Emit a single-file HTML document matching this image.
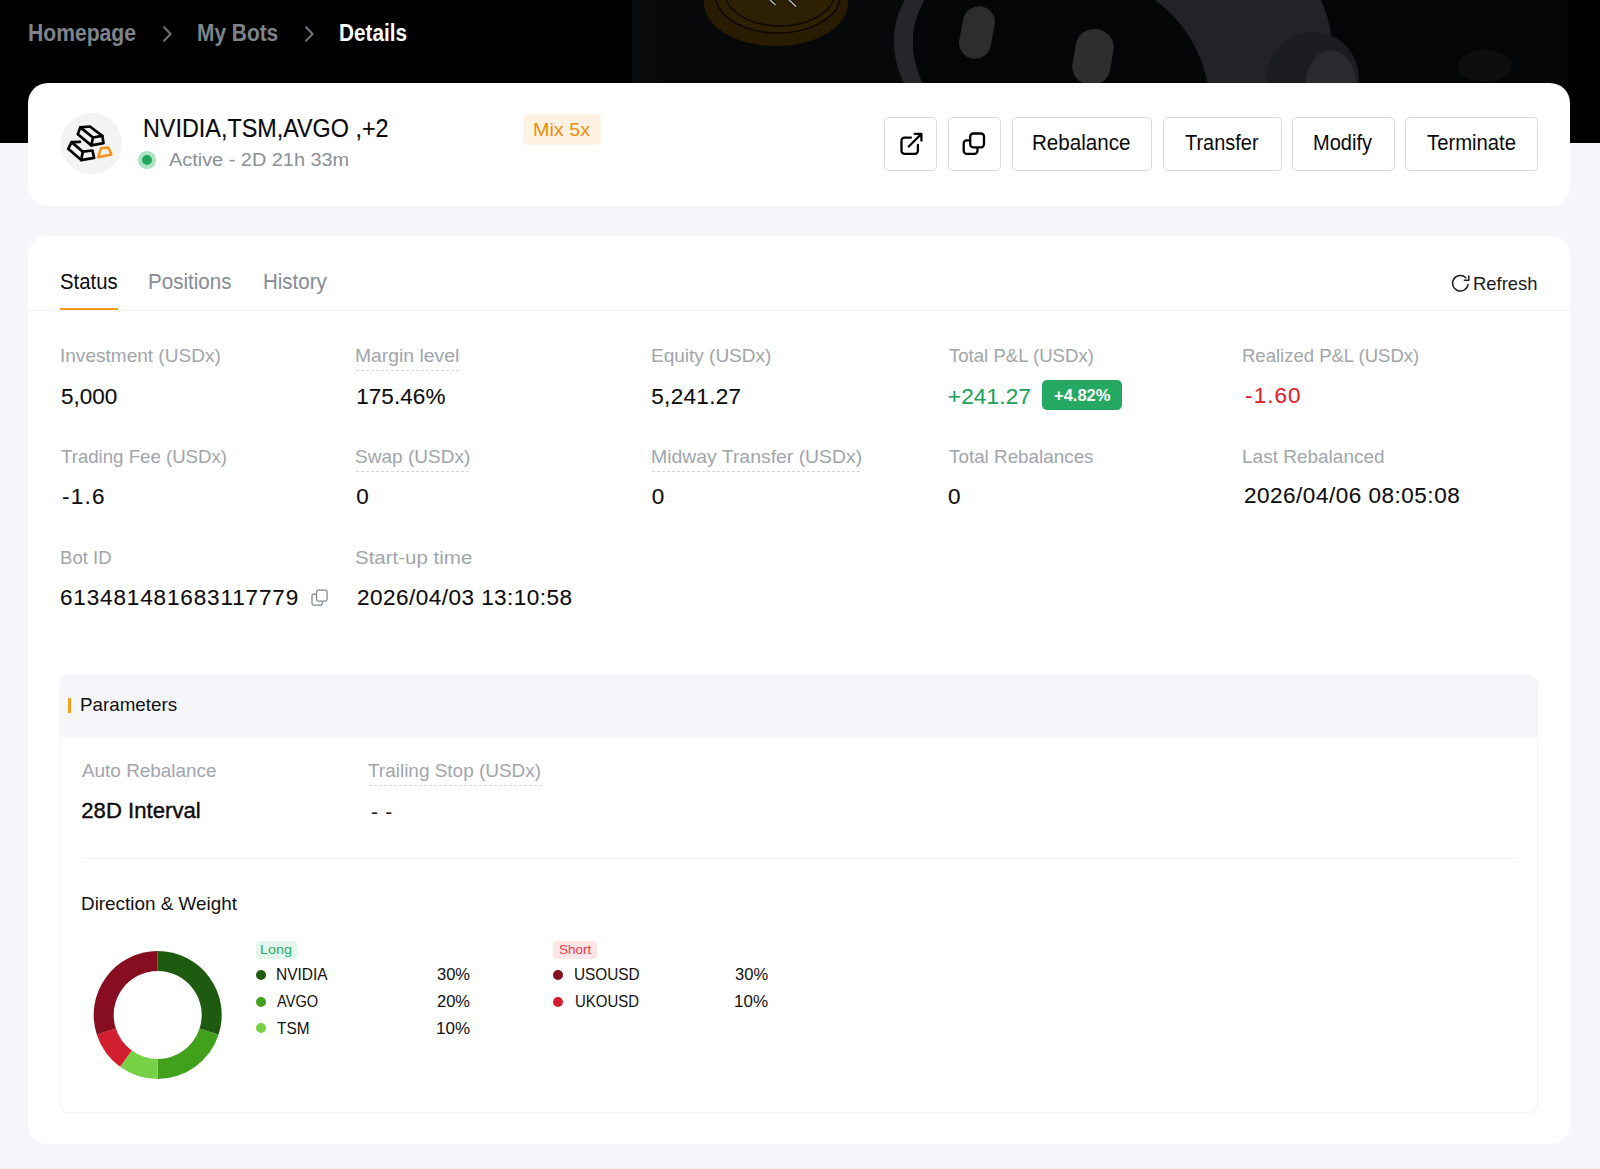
<!DOCTYPE html>
<html lang="en"><head><meta charset="utf-8"><title>Bot Details</title>
<style>
*{margin:0;padding:0;box-sizing:border-box}
html,body{width:1600px;height:1169px;overflow:hidden;background:#f5f6fa;font-family:"Liberation Sans",Arial,sans-serif;}
.t{position:absolute;white-space:nowrap}
.a{position:absolute}
.card{position:absolute;background:#fff;border-radius:20px}
.btn{position:absolute;top:117px;height:54px;border:1px solid #dadada;border-radius:5px;background:#fff}
.dash{position:absolute;height:1px;background-image:linear-gradient(90deg,#d4d7dc 0,#d4d7dc 3px,transparent 3px,transparent 5px);background-size:5px 1px}
.dot{position:absolute;width:10px;height:10px;border-radius:50%}
</style></head><body>
<div class="a" style="left:0;top:0;width:1600px;height:143px;background:#000"></div>
<svg class="a" style="left:632px;top:0" width="936" height="143" viewBox="632 0 936 143">
  <rect x="632" y="0" width="936" height="143" fill="#07080a"/>
  <rect x="632" y="0" width="30" height="143" fill="#090a0c"/>
  <rect x="1320" y="0" width="248" height="143" fill="#050607"/>
  <ellipse cx="1485" cy="66" rx="27" ry="16" fill="#0e0e0f"/>
  <ellipse cx="776" cy="3" rx="72" ry="43" fill="#2a1c02"/>
  <ellipse cx="778" cy="-4" rx="62" ry="37" fill="#2e2002" stroke="#0d0801" stroke-width="1.6"/>
  <ellipse cx="780" cy="-8" rx="55" ry="34" fill="none" stroke="#0d0801" stroke-width="1.4"/>
  <path d="M770 0 L775.5 5 M789 0 L796 6.5" stroke="#0d0801" stroke-width="3.5"/>
  <path d="M770 0 L775.5 5 M789 0 L796 6.5" stroke="#b8b8b8" stroke-width="1.6"/>
  <path d="M1100 -5 L1318 -5 Q1328 12 1331 35 L1331 90 L1100 90 Z" fill="#232327"/>
  <path d="M906 -2 C890 25 890 55 905 86 L924 86 C909 55 909 25 926 -2 Z" fill="#26262a"/>
  <path d="M926 -2 C909 25 909 55 924 86 L1208 86 Q1198 30 1152 -2 Z" fill="#050608"/>
  <rect x="961" y="6" width="32" height="53" rx="16" transform="rotate(11 977 32.5)" fill="#2d2d2f"/>
  <rect x="1074" y="29" width="38" height="56" rx="18" transform="rotate(10 1093 57)" fill="#2d2f2e"/>
  <circle cx="1313" cy="78" r="46" fill="#1c1d20"/>
  <ellipse cx="1331" cy="88" rx="26" ry="38" fill="#2a2b2e"/>
</svg>
<svg class="a" style="left:155px;top:20px" width="30" height="30" viewBox="155 20 30 30"><path d="M164.1 27.2 L170.6 34 L163.9 40.9" fill="none" stroke="#70757c" stroke-width="2" stroke-linecap="round" stroke-linejoin="round"/></svg>
<svg class="a" style="left:297px;top:20px" width="30" height="30" viewBox="297 20 30 30"><path d="M306.1 27.2 L312.6 34 L305.9 40.9" fill="none" stroke="#70757c" stroke-width="2" stroke-linecap="round" stroke-linejoin="round"/></svg>

<div class="card" style="left:28.4px;top:82.5px;width:1541.2px;height:123.4px"></div>
<div class="a" style="left:60.5px;top:113px;width:61px;height:61px;border-radius:50%;background:#f3f3f3"></div>
<svg class="a" style="left:58px;top:111px" width="66" height="66" viewBox="0 0 66 66">
  <g fill="none" stroke="#000" stroke-width="2.7" stroke-linejoin="round" stroke-linecap="round">
    <path d="M22.3 16.4 L31.9 15.5 L44.3 24.8 L45.5 32.2 L33.3 34.4 L19.8 23.2 Z"/>
    <path d="M22.3 16.4 L35 26.5 L44.3 24.8 M35 26.5 L33.3 34.4"/>
    <path d="M22 30.8 L13.6 31.1 L10.2 37.8 L23.2 49.1 L36.1 46.9 L34.4 39.5 L24.8 40.7"/>
    <path d="M13.6 31.1 L24.8 40.7 L23.2 49.1"/>
  </g>
  <path d="M42.9 37.3 L50.3 36.4 L53.4 43.5 L40.1 46.3 Z" fill="none" stroke="#f7931a" stroke-width="2.5" stroke-linejoin="round"/>
</svg>
<div class="a" style="left:138.15px;top:151.35px;width:17.5px;height:17.5px;border-radius:50%;background:#aee3c6"></div>
<div class="a" style="left:141.9px;top:155.1px;width:10px;height:10px;border-radius:50%;background:#1fa85d"></div>
<div class="a" style="left:523px;top:114px;width:78px;height:31px;border-radius:5px;background:#fef3e3"></div>

<div class="btn" style="left:884px;width:53px"></div>
<div class="btn" style="left:948px;width:53px"></div>
<div class="btn" style="left:1012px;width:140px"></div>
<div class="btn" style="left:1163px;width:118.5px"></div>
<div class="btn" style="left:1292px;width:102.5px"></div>
<div class="btn" style="left:1405px;width:133px"></div>
<svg class="a" style="left:880px;top:112px" width="130" height="64" viewBox="880 112 130 64">
  <g fill="none" stroke="#000" stroke-width="2.3" stroke-linecap="round" stroke-linejoin="round">
    <path d="M910.9 137.6 H904.5 A3 3 0 0 0 901.5 140.6 V150.8 A3 3 0 0 0 904.5 153.8 H914.9 A3 3 0 0 0 917.9 150.8 V145"/>
    <path d="M908.8 146.5 L921.2 134 M914.6 133.8 H921.4 V140.6"/>
    <rect x="963.7" y="140.4" width="13.8" height="13.4" rx="3"/>
    <rect x="970.2" y="133.5" width="13.8" height="13.8" rx="3" fill="#fff"/>
  </g>
</svg>

<div class="card" style="left:28.4px;top:236.4px;width:1541.2px;height:907.8px"></div>
<div class="a" style="left:28.4px;top:310px;width:1541.2px;height:1px;background:#f0f1f3"></div>
<div class="a" style="left:60px;top:308px;width:58px;height:2px;background:#f39a1b"></div>
<svg class="a" style="left:1450px;top:273px" width="21" height="21" viewBox="1450 273 21 21">
  <path d="M1468 284.6 A7.8 7.8 0 1 1 1465.8 277.7" fill="none" stroke="#1a1a1a" stroke-width="1.5" stroke-linecap="round"/>
  <path d="M1464.4 280.3 H1468.8 V275.9" fill="none" stroke="#1a1a1a" stroke-width="1.5" stroke-linecap="round" stroke-linejoin="round"/>
</svg>

<div class="dash" style="left:356px;top:370px;width:103px"></div>
<div class="dash" style="left:356px;top:471px;width:113px"></div>
<div class="dash" style="left:652px;top:471px;width:210px"></div>
<div class="a" style="left:1042px;top:380px;width:80px;height:30px;border-radius:5px;background:#25a862"></div>
<svg class="a" style="left:309px;top:587px" width="21" height="21" viewBox="309 587 21 21">
  <g fill="none" stroke="#80858d" stroke-width="1.25" stroke-linejoin="round">
    <rect x="316.5" y="590.2" width="10.6" height="10.8" rx="1.8"/>
    <path d="M315.9 594.2 H313.6 A1.6 1.6 0 0 0 312 595.8 V603.6 A1.6 1.6 0 0 0 313.6 605.2 H320.7 A1.6 1.6 0 0 0 322.3 603.6 V601.6"/>
  </g>
</svg>

<div class="a" style="left:60.2px;top:675px;width:1477.6px;height:437.8px;border:1px solid #f1f2f5;border-radius:9px;background:#fff;overflow:hidden"><div style="margin:-1px -1px 0;height:62px;background:#f5f6fa"></div></div>
<div class="a" style="left:68px;top:698px;width:3px;height:14.5px;background:#f5a01a"></div>
<div class="dash" style="left:369px;top:785px;width:174px"></div>
<div class="a" style="left:81.5px;top:858px;width:1436px;height:1px;background:#f0f1f3"></div>
<svg class="a" style="left:92px;top:950px" width="132" height="132" viewBox="0 0 132 132"><path d="M65.70 1.00A64 64 0 0 1 126.57 84.78L107.55 78.60A44 44 0 0 0 65.70 21.00Z" fill="#1e5a0f"/><path d="M126.57 84.78A64 64 0 0 1 65.70 129.00L65.70 109.00A44 44 0 0 0 107.55 78.60Z" fill="#41a11a"/><path d="M65.70 129.00A64 64 0 0 1 28.08 116.78L39.84 100.60A44 44 0 0 0 65.70 109.00Z" fill="#77d045"/><path d="M28.08 116.78A64 64 0 0 1 4.83 84.78L23.85 78.60A44 44 0 0 0 39.84 100.60Z" fill="#d21f2f"/><path d="M4.83 84.78A64 64 0 0 1 65.70 1.00L65.70 21.00A44 44 0 0 0 23.85 78.60Z" fill="#870d20"/></svg>
<div class="a" style="left:256px;top:941px;width:41px;height:18px;border-radius:4px;background:#e4f6ec"></div>
<div class="a" style="left:553px;top:941px;width:44px;height:18px;border-radius:4px;background:#fde6e8"></div>
<div class="dot" style="left:256px;top:969.8px;background:#1e5a0f"></div>
<div class="dot" style="left:256px;top:996.5px;background:#41a11a"></div>
<div class="dot" style="left:256px;top:1023.3px;background:#77d045"></div>
<div class="dot" style="left:553.4px;top:969.8px;background:#870d20"></div>
<div class="dot" style="left:553.4px;top:996.5px;background:#d21f2f"></div>
<div class="t" id="bc1" style="left:27.75px;top:19.01px;font-size:23.5px;line-height:28px;color:#7f848c;font-weight:700;transform:scaleX(0.8983);transform-origin:0 0;">Homepage</div>
<div class="t" id="bc2" style="left:196.75px;top:19.01px;font-size:23.5px;line-height:28px;color:#7f848c;font-weight:700;transform:scaleX(0.8889);transform-origin:0 0;">My Bots</div>
<div class="t" id="bc3" style="left:339.25px;top:19.01px;font-size:23.5px;line-height:28px;color:#ffffff;font-weight:700;transform:scaleX(0.8816);transform-origin:0 0;">Details</div>
<div class="t" id="title" style="left:142.50px;top:113.31px;font-size:25px;line-height:30px;color:#0a0a0a;transform:scaleX(0.9345);transform-origin:0 0;-webkit-text-stroke:0.15px #0a0a0a;">NVIDIA,TSM,AVGO ,+2</div>
<div class="t" id="active" style="left:168.60px;top:149.71px;font-size:17.5px;line-height:21px;color:#8a8f98;transform:scaleX(1.1364);transform-origin:0 0;">Active - 2D 21h 33m</div>
<div class="t" id="mix" style="left:533.10px;top:118.81px;font-size:18px;line-height:22px;color:#ef8b0d;transform:scaleX(1.0987);transform-origin:0 0;">Mix 5x</div>
<div class="t" id="b1" style="left:1032.20px;top:129.01px;font-size:22.1px;line-height:27px;color:#0a0a0a;transform:scaleX(0.9322);transform-origin:0 0;">Rebalance</div>
<div class="t" id="b2" style="left:1185.00px;top:129.01px;font-size:22.1px;line-height:27px;color:#0a0a0a;transform:scaleX(0.9028);transform-origin:0 0;">Transfer</div>
<div class="t" id="b3" style="left:1313.40px;top:129.01px;font-size:22.1px;line-height:27px;color:#0a0a0a;transform:scaleX(0.9067);transform-origin:0 0;">Modify</div>
<div class="t" id="b4" style="left:1427.40px;top:129.01px;font-size:22.1px;line-height:27px;color:#0a0a0a;transform:scaleX(0.9172);transform-origin:0 0;">Terminate</div>
<div class="t" id="tab1" style="left:59.75px;top:267.71px;font-size:22.1px;line-height:27px;color:#0a0a0a;transform:scaleX(0.9197);transform-origin:0 0;">Status</div>
<div class="t" id="tab2" style="left:148.10px;top:267.71px;font-size:22.1px;line-height:27px;color:#878c95;transform:scaleX(0.9320);transform-origin:0 0;">Positions</div>
<div class="t" id="tab3" style="left:262.90px;top:267.71px;font-size:22.1px;line-height:27px;color:#878c95;transform:scaleX(0.9270);transform-origin:0 0;">History</div>
<div class="t" id="refresh" style="left:1473.30px;top:272.91px;font-size:18.4px;line-height:22px;color:#1a1a1a;transform:scaleX(1.0006);transform-origin:0 0;">Refresh</div>
<div class="t" id="l11" style="left:59.50px;top:345.31px;font-size:18.2px;line-height:22px;color:#a1a5ac;transform:scaleX(1.0464);transform-origin:0 0;">Investment (USDx)</div>
<div class="t" id="l12" style="left:355.10px;top:345.31px;font-size:18.2px;line-height:22px;color:#a1a5ac;transform:scaleX(1.0629);transform-origin:0 0;">Margin level</div>
<div class="t" id="l13" style="left:651.30px;top:345.31px;font-size:18.2px;line-height:22px;color:#a1a5ac;transform:scaleX(1.0445);transform-origin:0 0;">Equity (USDx)</div>
<div class="t" id="l14" style="left:948.80px;top:345.31px;font-size:18.2px;line-height:22px;color:#a1a5ac;transform:scaleX(1.0217);transform-origin:0 0;">Total P&amp;L (USDx)</div>
<div class="t" id="l15" style="left:1242.10px;top:345.31px;font-size:18.2px;line-height:22px;color:#a1a5ac;transform:scaleX(1.0174);transform-origin:0 0;">Realized P&amp;L (USDx)</div>
<div class="t" id="l21" style="left:61.40px;top:446.00px;font-size:18.2px;line-height:22px;color:#a1a5ac;transform:scaleX(1.0245);transform-origin:0 0;">Trading Fee (USDx)</div>
<div class="t" id="l22" style="left:355.00px;top:446.00px;font-size:18.2px;line-height:22px;color:#a1a5ac;transform:scaleX(1.0463);transform-origin:0 0;">Swap (USDx)</div>
<div class="t" id="l23" style="left:650.60px;top:446.00px;font-size:18.2px;line-height:22px;color:#a1a5ac;transform:scaleX(1.0663);transform-origin:0 0;">Midway Transfer (USDx)</div>
<div class="t" id="l24" style="left:948.50px;top:446.00px;font-size:18.2px;line-height:22px;color:#a1a5ac;transform:scaleX(1.0360);transform-origin:0 0;">Total Rebalances</div>
<div class="t" id="l25" style="left:1242.10px;top:446.00px;font-size:18.2px;line-height:22px;color:#a1a5ac;transform:scaleX(1.0445);transform-origin:0 0;">Last Rebalanced</div>
<div class="t" id="l31" style="left:59.90px;top:546.71px;font-size:18.2px;line-height:22px;color:#a1a5ac;transform:scaleX(1.0209);transform-origin:0 0;">Bot ID</div>
<div class="t" id="l32" style="left:355.00px;top:546.71px;font-size:18.2px;line-height:22px;color:#a1a5ac;transform:scaleX(1.1270);transform-origin:0 0;">Start-up time</div>
<div class="t" id="v11" style="left:61.00px;top:382.51px;font-size:22.5px;line-height:27px;color:#0c0c0c;-webkit-text-stroke:0.1px #0c0c0c;">5,000</div>
<div class="t" id="v12" style="left:356.20px;top:382.51px;font-size:22.5px;line-height:27px;color:#0c0c0c;letter-spacing:0.070px;-webkit-text-stroke:0.1px #0c0c0c;">175.46%</div>
<div class="t" id="v13" style="left:651.30px;top:382.51px;font-size:22.5px;line-height:27px;color:#0c0c0c;letter-spacing:0.312px;-webkit-text-stroke:0.1px #0c0c0c;">5,241.27</div>
<div class="t" id="v14" style="left:947.80px;top:382.51px;font-size:22.5px;line-height:27px;color:#1ea35a;letter-spacing:0.202px;-webkit-text-stroke:0.1px #1ea35a;">+241.27</div>
<div class="t" id="v15" style="left:1245.10px;top:382.31px;font-size:22.5px;line-height:27px;color:#e0202b;letter-spacing:1.050px;-webkit-text-stroke:0.1px #e0202b;">-1.60</div>
<div class="t" id="v21" style="left:61.90px;top:483.10px;font-size:22.5px;line-height:27px;color:#0c0c0c;letter-spacing:1.268px;-webkit-text-stroke:0.1px #0c0c0c;">-1.6</div>
<div class="t" id="v22" style="left:356.20px;top:483.10px;font-size:22.5px;line-height:27px;color:#0c0c0c;-webkit-text-stroke:0.1px #0c0c0c;">0</div>
<div class="t" id="v23" style="left:651.70px;top:483.10px;font-size:22.5px;line-height:27px;color:#0c0c0c;-webkit-text-stroke:0.1px #0c0c0c;">0</div>
<div class="t" id="v24" style="left:948.00px;top:483.10px;font-size:22.5px;line-height:27px;color:#0c0c0c;-webkit-text-stroke:0.1px #0c0c0c;">0</div>
<div class="t" id="v25" style="left:1244.00px;top:482.31px;font-size:22.5px;line-height:27px;color:#0c0c0c;letter-spacing:0.513px;-webkit-text-stroke:0.1px #0c0c0c;">2026/04/06 08:05:08</div>
<div class="t" id="v31" style="left:59.90px;top:583.51px;font-size:22.5px;line-height:27px;color:#0c0c0c;letter-spacing:0.866px;-webkit-text-stroke:0.1px #0c0c0c;">613481481683117779</div>
<div class="t" id="v32" style="left:357.00px;top:583.71px;font-size:22.5px;line-height:27px;color:#0c0c0c;letter-spacing:0.479px;-webkit-text-stroke:0.1px #0c0c0c;">2026/04/03 13:10:58</div>
<div class="t" id="pct" style="left:1054.00px;top:385.40px;font-size:16.5px;line-height:20px;color:#ffffff;font-weight:700;">+4.82%</div>
<div class="t" id="param" style="left:80.00px;top:694.00px;font-size:18.2px;line-height:22px;color:#111111;transform:scaleX(1.0323);transform-origin:0 0;">Parameters</div>
<div class="t" id="p1l" style="left:82.30px;top:760.21px;font-size:18.2px;line-height:22px;color:#a1a5ac;transform:scaleX(1.0391);transform-origin:0 0;">Auto Rebalance</div>
<div class="t" id="p2l" style="left:368.25px;top:760.21px;font-size:18.2px;line-height:22px;color:#a1a5ac;transform:scaleX(1.0422);transform-origin:0 0;">Trailing Stop (USDx)</div>
<div class="t" id="p1v" style="left:81.30px;top:797.01px;font-size:22.1px;line-height:27px;color:#0c0c0c;letter-spacing:0.025px;-webkit-text-stroke:0.4px #0c0c0c;">28D Interval</div>
<div class="t" id="p2v" style="left:371.00px;top:798.80px;font-size:21px;line-height:25px;color:#1e1e1e;letter-spacing:0.700px;">- -</div>
<div class="t" id="dw" style="left:81.30px;top:892.01px;font-size:19px;line-height:23px;color:#111111;transform:scaleX(0.9933);transform-origin:0 0;">Direction &amp; Weight</div>
<div class="t" id="long" style="left:259.75px;top:943.01px;font-size:12px;line-height:14px;color:#2dab6c;transform:scaleX(1.1973);transform-origin:0 0;">Long</div>
<div class="t" id="short" style="left:559.00px;top:943.01px;font-size:12px;line-height:14px;color:#ea3a46;transform:scaleX(1.1220);transform-origin:0 0;">Short</div>
<div class="t" id="n1" style="left:276.10px;top:964.81px;font-size:17px;line-height:20px;color:#111111;transform:scaleX(0.9113);transform-origin:0 0;">NVIDIA</div>
<div class="t" id="n2" style="left:277.10px;top:991.90px;font-size:17px;line-height:20px;color:#111111;transform:scaleX(0.8597);transform-origin:0 0;">AVGO</div>
<div class="t" id="n3" style="left:277.10px;top:1018.76px;font-size:17px;line-height:20px;color:#111111;transform:scaleX(0.9038);transform-origin:0 0;">TSM</div>
<div class="t" id="p1" style="left:437.40px;top:964.81px;font-size:17px;line-height:20px;color:#111111;transform:scaleX(0.9714);transform-origin:0 0;">30%</div>
<div class="t" id="p2" style="left:437.40px;top:991.90px;font-size:17px;line-height:20px;color:#111111;transform:scaleX(0.9714);transform-origin:0 0;">20%</div>
<div class="t" id="p3" style="left:436.40px;top:1018.76px;font-size:17px;line-height:20px;color:#111111;transform:scaleX(1.0006);transform-origin:0 0;">10%</div>
<div class="t" id="s1" style="left:573.90px;top:964.81px;font-size:17px;line-height:20px;color:#111111;transform:scaleX(0.9015);transform-origin:0 0;">USOUSD</div>
<div class="t" id="s2" style="left:574.90px;top:991.90px;font-size:17px;line-height:20px;color:#111111;transform:scaleX(0.8822);transform-origin:0 0;">UKOUSD</div>
<div class="t" id="q1" style="left:734.60px;top:964.81px;font-size:17px;line-height:20px;color:#111111;transform:scaleX(0.9725);transform-origin:0 0;">30%</div>
<div class="t" id="q2" style="left:733.60px;top:991.90px;font-size:17px;line-height:20px;color:#111111;transform:scaleX(1.0029);transform-origin:0 0;">10%</div>
</body></html>
